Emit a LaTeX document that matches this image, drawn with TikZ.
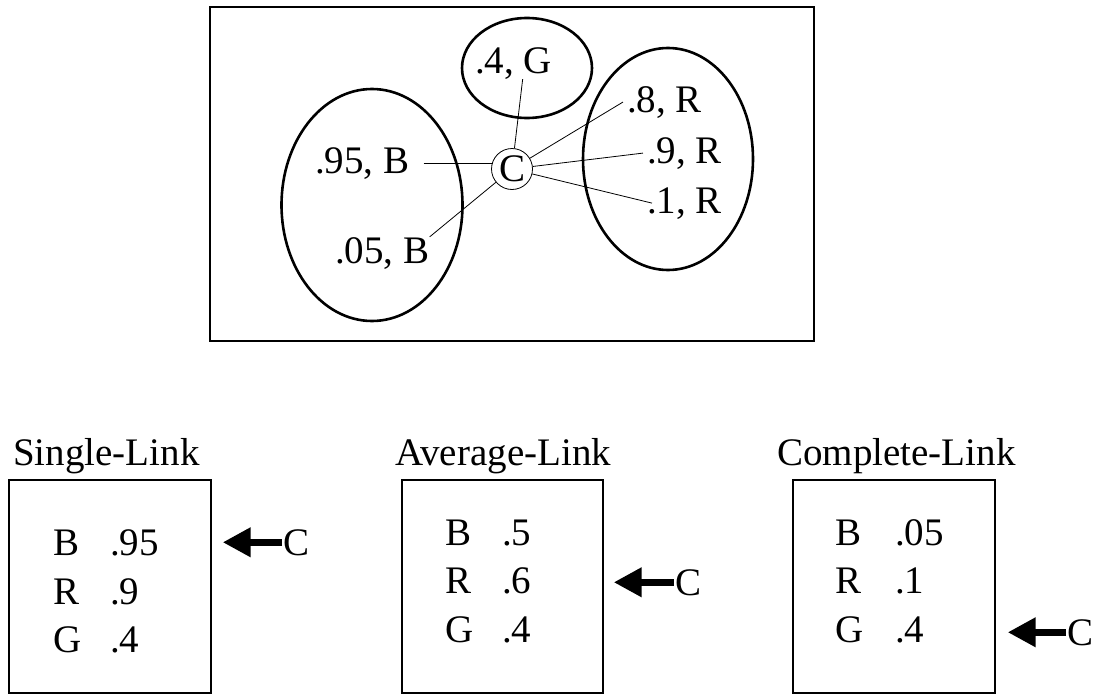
\documentclass[tikz,border=0pt]{standalone}
\usepackage{fontspec}
\setmainfont{Liberation Serif}
\usepackage{tikz}
\usetikzlibrary{positioning}
\usetikzlibrary{shapes.geometric}
\usetikzlibrary{arrows.meta}

\newcommand{\labelsize}{\fontsize{39}{47}\selectfont}

\begin{document}
\begin{tikzpicture}[x=1pt, y=-1pt,
                          cluster/.style={ellipse, draw, line width=2.6pt, inner sep=0},
                          frame/.style={rectangle, draw, line width=1.4pt, inner sep=0},
                          item/.style={inner sep=0, anchor=base west, font=\labelsize},
                          centre/.style={circle, draw, line width=0.8pt, minimum size=41pt, inner sep=0, font=\labelsize},
                          link/.style={line width=0.8pt},
                          fatarrow/.style={line width=7pt, -{Triangle[length=28pt, width=28pt]}},
                      ]
                      \useasboundingbox (0,0) rectangle (1097,696);

                      %Top picture
                      \node[frame, minimum width=604, minimum height=334] (space) at (512,174) {};
                      \node[cluster, minimum width=130, minimum height=100] (green) at (527,68) {};
                      \node[cluster, minimum width=181, minimum height=232] (blue) at (372,205) {};
                      \node[cluster, minimum width=170, minimum height=222] (red) at (668,159) {};

                      \node[centre]   (C)      at (512,169)    {C};
                      \node[item]     (g_4)    at (475,73)     {.4, G};
                      \node[item]     (r_8)    at (627,112)    {.8, R};
                      \node[item]     (r_9)    at (647,163)    {.9, R};
                      \node[item]     (r_1)    at (647,213)    {.1, R};
                      \node[item]     (b_95)   at (315,173)    {.95, B};
                      \node[item]     (b_05)   at (335,263)    {.05, B};

                      %Lines
                      \draw[link] (C) -- ([xshift=9]g_4.south);
                      \draw[link] (C) -- ([xshift=-4]r_8.west);
                      \draw[link] (C) -- ([xshift=-4]r_9.west);
                      \draw[link] (C) -- ([xshift=5]r_1.west);
                      \draw[link] ([xshift=14]b_95.east) -- ([xshift=2]b_95.east -| C.west);
                      \draw[link] (C) -- (b_05.north east);

                      %Single-Link
                      \node[item]     (single)  at (13,465)   {Single-Link};
                      \node[frame, minimum width=202, minimum height=213] (single_box) at (110,586.5) {};
                      \node[item]     (s_b)     at (53,555)   {B};
                      \node[item]     (s_b_v)   at (110,555)  {.95};
                      \node[item]     (s_r)     at (53,604)   {R};
                      \node[item]     (s_r_v)   at (110,604)  {.9};
                      \node[item]     (s_g)     at (53,652)   {G};
                      \node[item]     (s_g_v)   at (110,652)  {.4};
                      \node[item]     (s_c)     at (283,555)  {C};

                      %Average-Link
                      \node[item]     (average) at (395,465)  {Average-Link};
                      \node[frame, minimum width=201, minimum height=213] (average_box) at (502.5,586.5) {};
                      \node[item]     (a_b)     at (445,545)  {B};
                      \node[item]     (a_b_v)   at (502,545)  {.5};
                      \node[item]     (a_r)     at (445,593)  {R};
                      \node[item]     (a_r_v)   at (502,593)  {.6};
                      \node[item]     (a_g)     at (445,642)  {G};
                      \node[item]     (a_g_v)   at (502,642)  {.4};
                      \node[item]     (a_c)     at (675,595)  {C};

                      %Complete-Link
                      \node[item]     (complete) at (777,465) {Complete-Link};
                      \node[frame, minimum width=202, minimum height=213] (complete_box) at (894,586.5) {};
                      \node[item]     (c_b)     at (835,545)  {B};
                      \node[item]     (c_b_v)   at (895,545)  {.05};
                      \node[item]     (c_r)     at (835,593)  {R};
                      \node[item]     (c_r_v)   at (895,593)  {.1};
                      \node[item]     (c_g)     at (835,642)  {G};
                      \node[item]     (c_g_v)   at (895,642)  {.4};
                      \node[item]     (c_c)     at (1067,645) {C};

                      %Arrows
                      \draw[fatarrow] ([xshift=-1]s_c.west) -- ([xshift=11]s_c.west -| single_box.east);
                      \draw[fatarrow] ([xshift=-1]a_c.west) -- ([xshift=10]a_c.west -| average_box.east);
                      \draw[fatarrow] ([xshift=-1]c_c.west) -- ([xshift=12]c_c.west -| complete_box.east);
                  \end{tikzpicture}
\end{document}
